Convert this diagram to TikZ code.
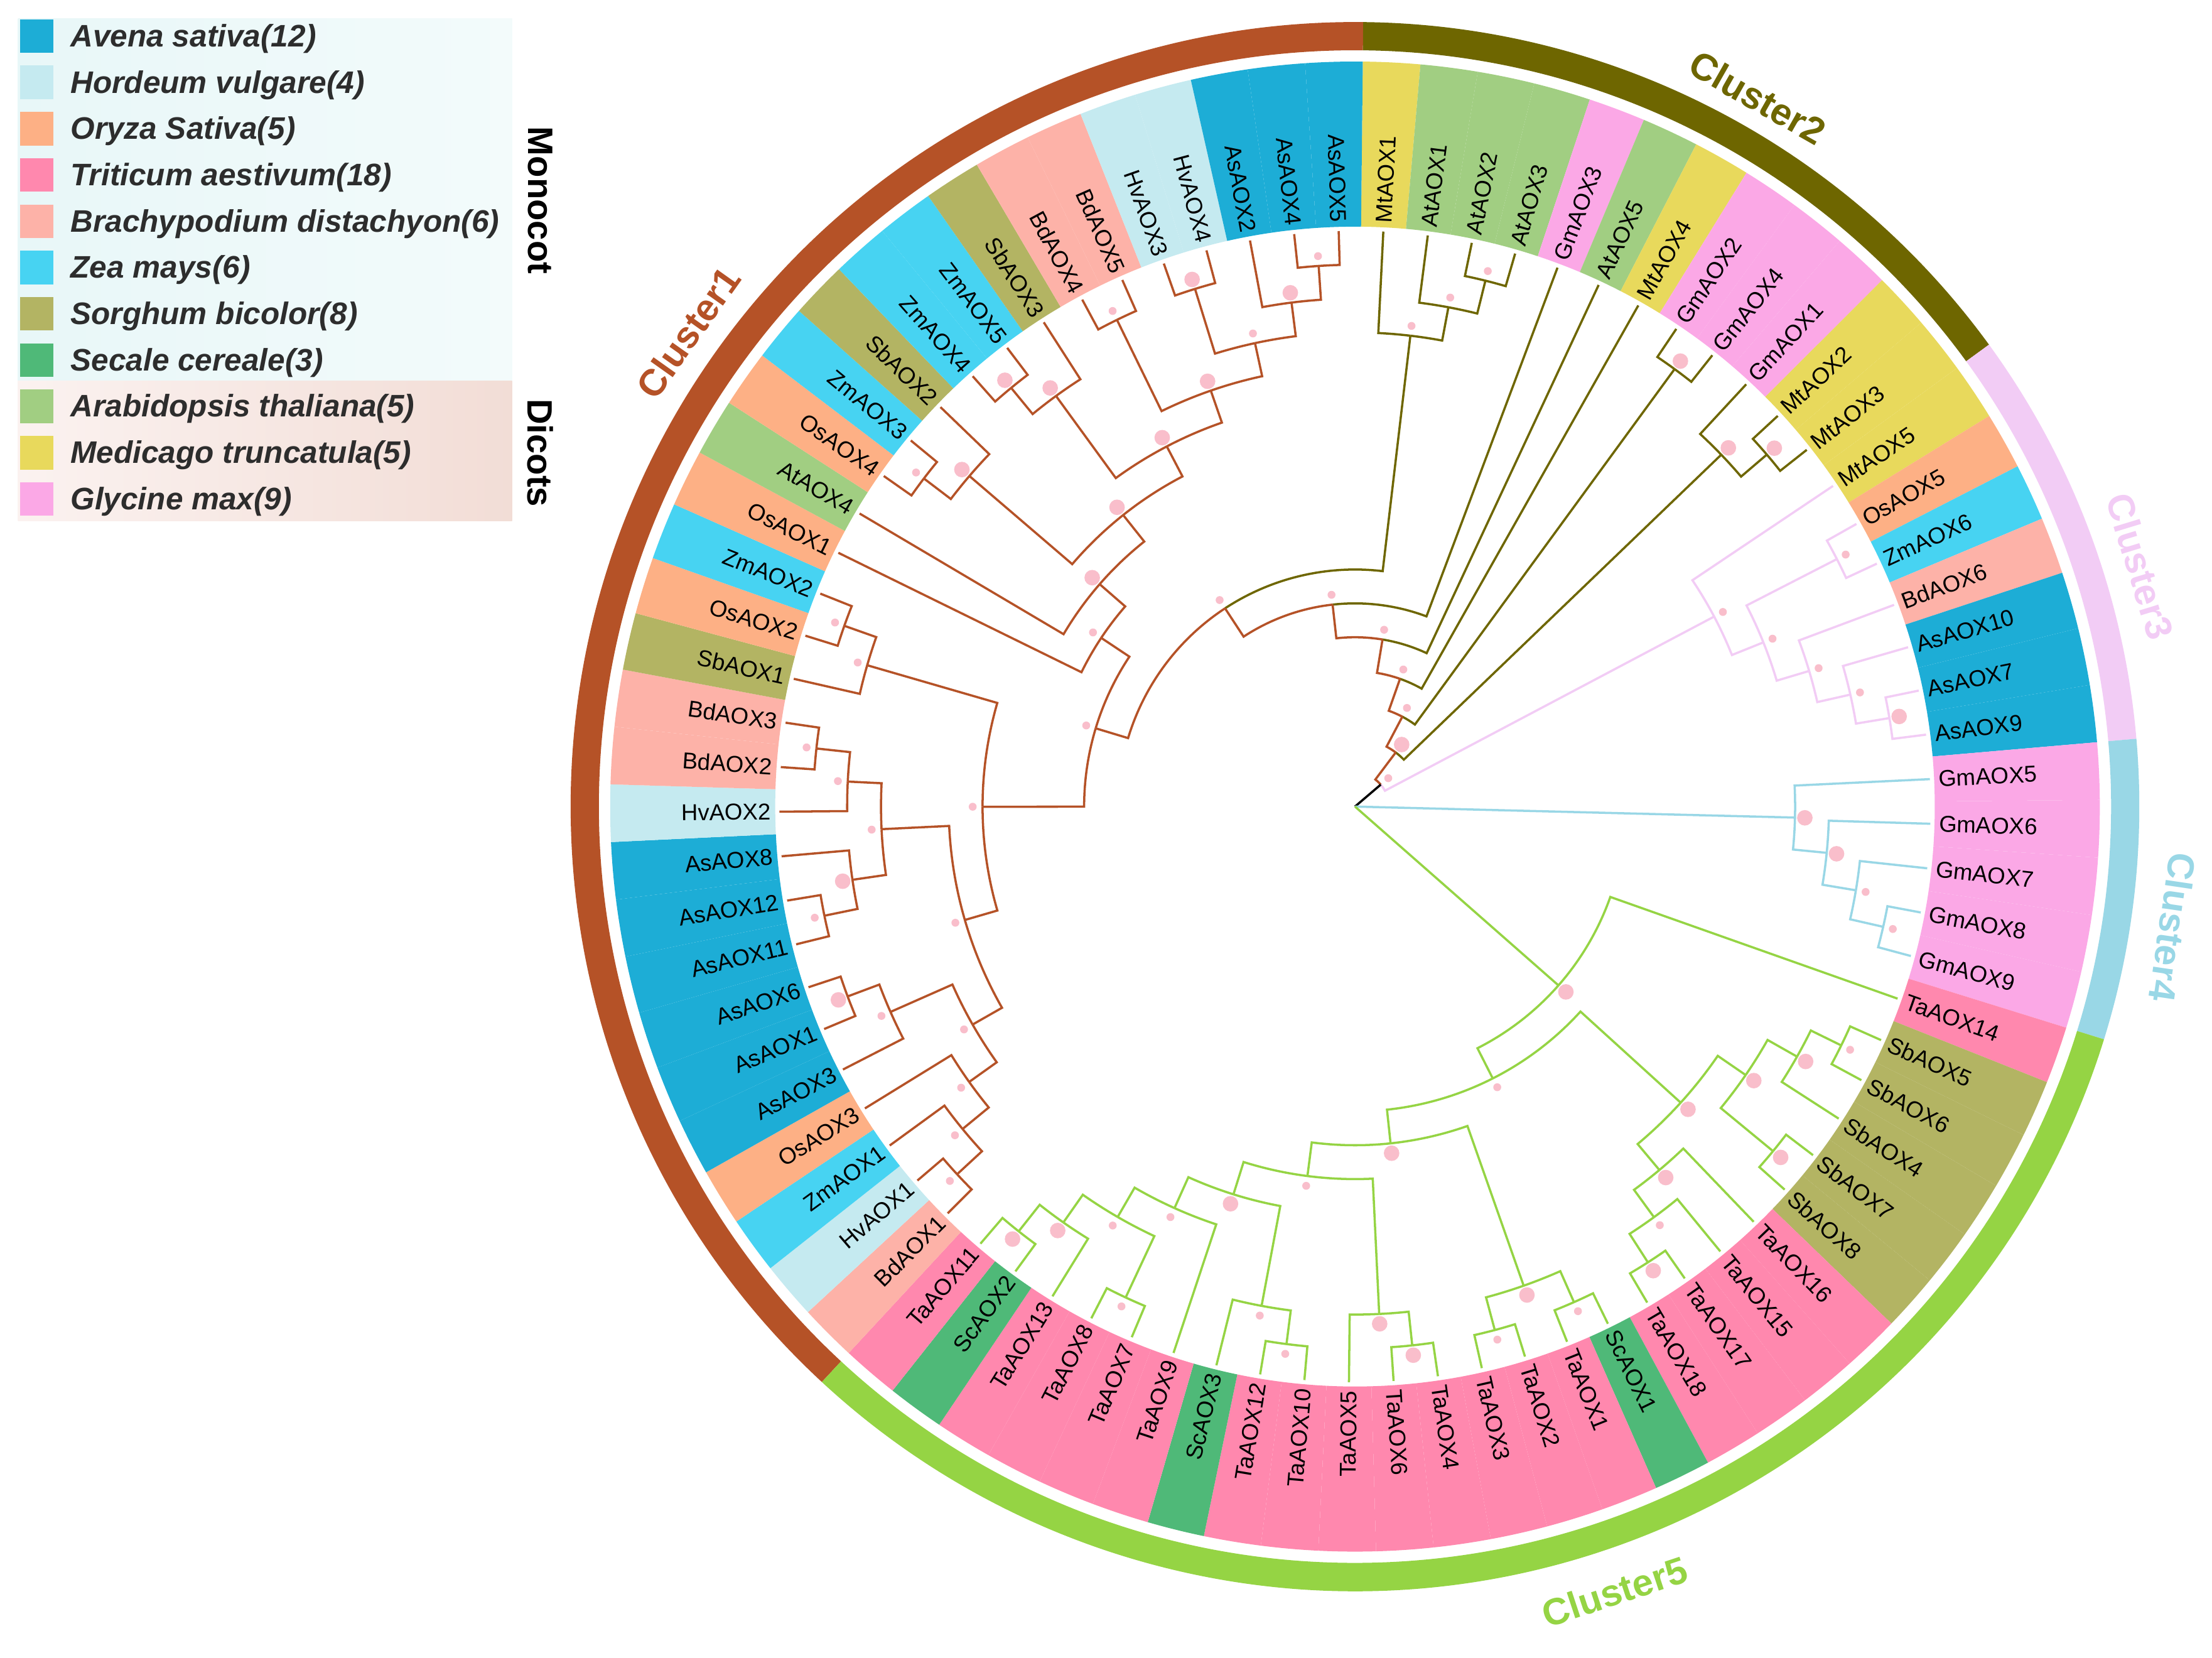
\documentclass[tikz,border=0pt]{standalone}
\usepackage{fontspec}
\setmainfont{Liberation Sans}
\pgfdeclarelayer{fg}
\pgfsetlayers{main,fg}
\definecolor{spAs}{RGB}{29,173,214}
\definecolor{spHv}{RGB}{197,234,240}
\definecolor{spOs}{RGB}{253,176,133}
\definecolor{spTa}{RGB}{255,136,174}
\definecolor{spBd}{RGB}{253,178,168}
\definecolor{spZm}{RGB}{71,211,242}
\definecolor{spSb}{RGB}{179,180,99}
\definecolor{spSc}{RGB}{79,185,120}
\definecolor{spAt}{RGB}{161,206,130}
\definecolor{spMt}{RGB}{232,217,92}
\definecolor{spGm}{RGB}{251,168,230}
\definecolor{cA}{RGB}{181,82,39}
\definecolor{cB}{RGB}{110,102,0}
\definecolor{cC}{RGB}{242,204,245}
\definecolor{cD}{RGB}{153,215,230}
\definecolor{cE}{RGB}{149,212,68}
\definecolor{dotc}{RGB}{249,190,203}
\definecolor{legtext}{RGB}{45,45,45}
\definecolor{legMonoL}{RGB}{232,247,248}
\definecolor{legMonoR}{RGB}{243,251,251}
\definecolor{legDiL}{RGB}{251,242,240}
\definecolor{legDiR}{RGB}{242,221,214}

% internal node: name, level, child1, child2, colour, dot radius
\newcommand\inode[6]{%
  \edef\angA{\csname ang@#3\endcsname}%
  \edef\angB{\csname ang@#4\endcsname}%
  \edef\colA{\csname col@#3\endcsname}%
  \edef\colB{\csname col@#4\endcsname}%
  \pgfmathsetmacro\angM{(\angA+\angB)/2}%
  \pgfmathsetmacro\radN{24*#2}%
  \pgfmathsetmacro\radD{24*#2+7}%
  \expandafter\xdef\csname ang@#1\endcsname{\angM}%
  \expandafter\xdef\csname col@#1\endcsname{#5}%
  \coordinate (#1) at (\angM:\radN);
  \draw[branch, draw=\colA] (#1) arc[start angle=\angM, end angle=\angA, radius=\radN] -- (#3);
  \draw[branch, draw=\colB] (#1) arc[start angle=\angM, end angle=\angB, radius=\radN] -- (#4);
  \begin{pgfonlayer}{fg}\fill[dotc] (\angM:\radD) circle[radius=#6];\end{pgfonlayer}%
}
\newcommand\ringsector[5]{% r1 r2 a1 a2 colour
  \fill[#5] (#3:#1) arc[start angle=#3, end angle=#4, radius=#1] -- (#4:#2) arc[start angle=#4, end angle=#3, radius=#2] -- cycle;}

\begin{document}
\begin{tikzpicture}[x=0.2247mm, y=0.2247mm,
  branch/.style={line width=1pt},
  leaflab/.style={inner sep=0pt, font=\fontsize{10.4}{12}\selectfont, text=black},
  clab/.style={inner sep=0pt, font=\fontsize{17}{20}\selectfont\bfseries},
  legtxt/.style={inner sep=0pt, anchor=base west, text=legtext, font=\fontsize{14.1}{16}\selectfont\bfseries\itshape},
  sidelab/.style={inner sep=0pt, rotate=-90, font=\fontsize{16}{19}\selectfont\bfseries}]

\fill[white] (-960.5,-602.95) rectangle (607.5,571.6);
\useasboundingbox (-960.5,-602.95) rectangle (607.5,571.6);

% ---------------- legend ----------------
\begin{scope}[shift={(-960.5,571.6)}]
  \shade[left color=legMonoL, right color=legMonoR] (12.8,-13) rectangle (363,-270);
  \shade[left color=legDiL, right color=legDiR] (12.8,-270) rectangle (363,-369);
  \foreach \spc/\txt [count=\k from 0] in {As/Avena sativa(12), Hv/Hordeum vulgare(4), Os/Oryza Sativa(5), Ta/Triticum aestivum(18), Bd/Brachypodium distachyon(6), Zm/Zea mays(6), Sb/Sorghum bicolor(8), Sc/Secale cereale(3), At/Arabidopsis thaliana(5), Mt/Medicago truncatula(5), Gm/Glycine max(9)} {
    \pgfmathsetmacro\yc{-(25.6+32.8*\k)}
    \fill[fill=sp\spc] (14.1,\yc+11.9) rectangle (37.8,\yc-11.9);
    \node[legtxt] (leg-\spc) at (49.8,\yc-7.5) {\txt};
  }
  \node[sidelab] (mono) at (383,-142) {Monocot};
  \node[sidelab] (dico) at (383,-321) {Dicots};
\end{scope}

% ---------------- outer ring ----------------
\ringsector{536}{556}{89.4}{227.18}{cA}
\ringsector{536}{556}{36.07}{89.4}{cB}
\ringsector{536}{556}{4.96}{36.07}{cC}
\ringsector{536}{556}{-17.26}{4.96}{cD}
\ringsector{536}{556}{-132.82}{-17.26}{cE}

\node[clab, text=cA, rotate=54.6] (cl1) at (144.6:580) {Cluster1};
\node[clab, text=cB, rotate=-29.6] (cl2) at (60.4:578) {Cluster2};
\node[clab, text=cC, rotate=-73] (cl3) at (17:582) {Cluster3};
\node[clab, text=cD, rotate=-98.4] (cl4) at (-8.4:586) {Cluster4};
\node[clab, text=cE, rotate=18.3] (cl5) at (-71.7:586) {Cluster5};

% ---------------- leaves ----------------
\foreach \nm/\spc/\cl [count=\i from 0] in {
MtAOX1/Mt/cB, AtAOX1/At/cB, AtAOX2/At/cB, AtAOX3/At/cB, GmAOX3/Gm/cB, AtAOX5/At/cB, MtAOX4/Mt/cB, GmAOX2/Gm/cB, GmAOX4/Gm/cB, GmAOX1/Gm/cB, MtAOX2/Mt/cB, MtAOX3/Mt/cB,
MtAOX5/Mt/cC, OsAOX5/Os/cC, ZmAOX6/Zm/cC, BdAOX6/Bd/cC, AsAOX10/As/cC, AsAOX7/As/cC, AsAOX9/As/cC,
GmAOX5/Gm/cD, GmAOX6/Gm/cD, GmAOX7/Gm/cD, GmAOX8/Gm/cD, GmAOX9/Gm/cD,
TaAOX14/Ta/cE, SbAOX5/Sb/cE, SbAOX6/Sb/cE, SbAOX4/Sb/cE, SbAOX7/Sb/cE, SbAOX8/Sb/cE, TaAOX16/Ta/cE, TaAOX15/Ta/cE, TaAOX17/Ta/cE, TaAOX18/Ta/cE, ScAOX1/Sc/cE, TaAOX1/Ta/cE, TaAOX2/Ta/cE, TaAOX3/Ta/cE, TaAOX4/Ta/cE, TaAOX6/Ta/cE, TaAOX5/Ta/cE, TaAOX10/Ta/cE, TaAOX12/Ta/cE, ScAOX3/Sc/cE, TaAOX9/Ta/cE, TaAOX7/Ta/cE, TaAOX8/Ta/cE, TaAOX13/Ta/cE, ScAOX2/Sc/cE, TaAOX11/Ta/cE,
BdAOX1/Bd/cA, HvAOX1/Hv/cA, ZmAOX1/Zm/cA, OsAOX3/Os/cA, AsAOX3/As/cA, AsAOX1/As/cA, AsAOX6/As/cA, AsAOX11/As/cA, AsAOX12/As/cA, AsAOX8/As/cA, HvAOX2/Hv/cA, BdAOX2/Bd/cA, BdAOX3/Bd/cA, SbAOX1/Sb/cA, OsAOX2/Os/cA, ZmAOX2/Zm/cA, OsAOX1/Os/cA, AtAOX4/At/cA, OsAOX4/Os/cA, ZmAOX3/Zm/cA, SbAOX2/Sb/cA, ZmAOX4/Zm/cA, ZmAOX5/Zm/cA, SbAOX3/Sb/cA, BdAOX4/Bd/cA, BdAOX5/Bd/cA, HvAOX3/Hv/cA, HvAOX4/Hv/cA, AsAOX2/As/cA, AsAOX4/As/cA, AsAOX5/As/cA}
{
  \pgfmathsetmacro\lang{89.4-(\i+0.5)*4.444444+(\i>49)*360}
  \expandafter\xdef\csname ang@\nm\endcsname{\lang}
  \expandafter\xdef\csname col@\nm\endcsname{\cl}
  \pgfmathsetmacro\aL{\lang-2.2222}
  \pgfmathsetmacro\aR{\lang+2.2222}
  \fill[fill=sp\spc] (\aL:411) arc[start angle=\aL, end angle=\aR, radius=411] -- (\aR:528) arc[start angle=\aR, end angle=\aL, radius=528] -- cycle;
  \coordinate (\nm) at (\lang:408);
  \pgfmathtruncatemacro\flip{cos(\lang)<0}
  \ifnum\flip=1
    \pgfmathsetmacro\rot{\lang+180}
    \node[leaflab, anchor=east, rotate=\rot] (lab-\nm) at (\lang:414) {\nm};
  \else
    \node[leaflab, anchor=west, rotate=\lang] (lab-\nm) at (\lang:414) {\nm};
  \fi
}

% ---------------- cluster 2 ----------------
\inode{A2}{16}{AtAOX2}{AtAOX3}{cB}{2.8}
\inode{A1}{15}{AtAOX1}{A2}{cB}{2.8}
\inode{A}{14}{MtAOX1}{A1}{cB}{2.8}
\inode{G}{16}{GmAOX2}{GmAOX4}{cB}{5.5}
\inode{Q2}{16}{MtAOX2}{MtAOX3}{cB}{5.5}
\inode{Q}{15}{GmAOX1}{Q2}{cB}{5.5}
% ---------------- cluster 3 ----------------
\inode{W}{16}{AsAOX7}{AsAOX9}{cC}{5.5}
\inode{Z}{15}{AsAOX10}{W}{cC}{2.8}
\inode{Y}{14}{BdAOX6}{Z}{cC}{2.8}
\inode{OZ}{16}{OsAOX5}{ZmAOX6}{cC}{2.8}
\inode{X}{13}{OZ}{Y}{cC}{2.8}
\inode{C3}{12}{MtAOX5}{X}{cC}{2.8}
% ---------------- cluster 4 ----------------
\inode{D4}{16}{GmAOX8}{GmAOX9}{cD}{2.8}
\inode{D3}{15}{GmAOX7}{D4}{cD}{2.8}
\inode{D2}{14}{GmAOX6}{D3}{cD}{5.5}
\inode{D1}{13}{GmAOX5}{D2}{cD}{5.5}
% ---------------- cluster 5 ----------------
\inode{E24}{16}{TaAOX11}{ScAOX2}{cE}{5.5}
\inode{E25}{15}{E24}{TaAOX13}{cE}{5.5}
\inode{E27}{16}{TaAOX8}{TaAOX7}{cE}{2.8}
\inode{E26}{14}{E25}{E27}{cE}{2.8}
\inode{E22}{13}{E26}{TaAOX9}{cE}{2.8}
\inode{E21}{16}{TaAOX12}{TaAOX10}{cE}{2.8}
\inode{E20}{15}{ScAOX3}{E21}{cE}{2.8}
\inode{E19}{12}{E22}{E20}{cE}{5.5}
\inode{E18}{16}{TaAOX6}{TaAOX4}{cE}{5.5}
\inode{E17}{15}{TaAOX5}{E18}{cE}{5.5}
\inode{E16}{11}{E19}{E17}{cE}{2.8}
\inode{E15}{16}{TaAOX3}{TaAOX2}{cE}{2.8}
\inode{E14}{16}{TaAOX1}{ScAOX1}{cE}{2.8}
\inode{E13}{15}{E15}{E14}{cE}{5.5}
\inode{E4}{10}{E16}{E13}{cE}{5.5}
\inode{E11}{16}{TaAOX18}{TaAOX17}{cE}{5.5}
\inode{E10}{15}{E11}{TaAOX15}{cE}{2.8}
\inode{E6}{14}{E10}{TaAOX16}{cE}{5.5}
\inode{E9}{16}{SbAOX8}{SbAOX7}{cE}{5.5}
\inode{E8}{16}{SbAOX6}{SbAOX5}{cE}{2.8}
\inode{E7}{15}{SbAOX4}{E8}{cE}{5.5}
\inode{E5}{14}{E9}{E7}{cE}{5.5}
\inode{E3}{13}{E6}{E5}{cE}{5.5}
\inode{E2}{9}{E4}{E3}{cE}{2.8}
\inode{E1}{8}{E2}{TaAOX14}{cE}{5.5}
% ---------------- cluster 1 ----------------
\inode{V9}{16}{AsAOX4}{AsAOX5}{cA}{2.8}
\inode{V8}{15}{AsAOX2}{V9}{cA}{5.5}
\inode{V7}{16}{HvAOX3}{HvAOX4}{cA}{5.5}
\inode{V6}{14}{V7}{V8}{cA}{2.8}
\inode{V5}{16}{BdAOX4}{BdAOX5}{cA}{2.8}
\inode{V4}{13}{V5}{V6}{cA}{5.5}
\inode{V1}{16}{ZmAOX4}{ZmAOX5}{cA}{5.5}
\inode{V2}{15}{V1}{SbAOX3}{cA}{5.5}
\inode{V3}{12}{V2}{V4}{cA}{5.5}
\inode{OZ4}{16}{OsAOX4}{ZmAOX3}{cA}{2.8}
\inode{U4}{15}{OZ4}{SbAOX2}{cA}{5.5}
\inode{U3}{11}{U4}{V3}{cA}{5.5}
\inode{U2}{10}{AtAOX4}{U3}{cA}{5.5}
\inode{U1}{9}{OsAOX1}{U2}{cA}{2.8}
\inode{P2}{16}{OsAOX2}{ZmAOX2}{cA}{2.8}
\inode{P1}{15}{SbAOX1}{P2}{cA}{2.8}
\inode{B1}{16}{BdAOX2}{BdAOX3}{cA}{2.8}
\inode{B2}{15}{B1}{HvAOX2}{cA}{2.8}
\inode{B5}{16}{AsAOX12}{AsAOX11}{cA}{2.8}
\inode{B4}{15}{AsAOX8}{B5}{cA}{5.5}
\inode{B3}{14}{B2}{B4}{cA}{2.8}
\inode{B9}{16}{AsAOX1}{AsAOX6}{cA}{5.5}
\inode{B8}{15}{AsAOX3}{B9}{cA}{2.8}
\inode{B12}{16}{HvAOX1}{BdAOX1}{cA}{2.8}
\inode{B11}{15}{ZmAOX1}{B12}{cA}{2.8}
\inode{B10}{14}{OsAOX3}{B11}{cA}{2.8}
\inode{B7}{13}{B8}{B10}{cA}{2.8}
\inode{B6}{12}{B3}{B7}{cA}{2.8}
\inode{P}{11}{P1}{B6}{cA}{2.8}
\inode{CL1}{8}{U1}{P}{cA}{2.8}
% ---------------- backbone ----------------
\inode{N7}{7}{A}{CL1}{cA}{2.8}
\inode{N6}{6}{GmAOX3}{N7}{cA}{2.8}
\inode{N5}{5}{AtAOX5}{N6}{cA}{2.8}
\inode{N4}{4}{MtAOX4}{N5}{cA}{2.8}
\inode{N3}{3}{G}{N4}{cA}{2.8}
\inode{N2}{2}{Q}{N3}{cA}{5.5}
\inode{N1}{1}{C3}{N2}{black}{2.8}
\coordinate (root) at (0,0);
\draw[branch, draw=black] (root) -- (N1);
\draw[branch, draw=cD] (root) -- (D1);
\draw[branch, draw=cE] (root) -- (E1);
\end{tikzpicture}
\end{document}
